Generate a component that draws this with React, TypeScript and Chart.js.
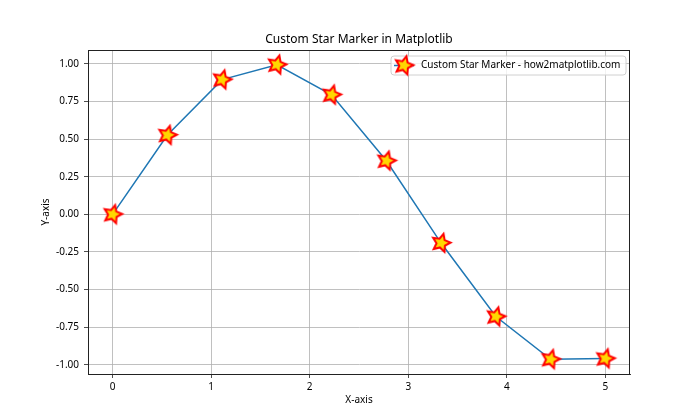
import React, { useEffect, useRef } from "react";
import { Chart, registerables } from "chart.js";

Chart.register(...registerables);

const xValues = [0, 0.556, 1.111, 1.667, 2.222, 2.778, 3.333, 3.889, 4.444, 5];
const yValues = [0, 0.527, 0.896, 0.995, 0.795, 0.356, -0.191, -0.68, -0.964, -0.959];
const xTicks = [0, 1, 2, 3, 4, 5];
const yTicks = [-1, -0.75, -0.5, -0.25, 0, 0.25, 0.5, 0.75, 1];

const TITLE = "Custom Star Marker in Matplotlib";
const X_LABEL = "X-axis";
const Y_LABEL = "Y-axis";
const LEGEND_LABEL = "Custom Star Marker - how2matplotlib.com";

const FONT = "'Noto Sans', 'DejaVu Sans', sans-serif";
const LINE_COLOR = "#1f77b4";

function makeStar(): HTMLCanvasElement {
  const c = document.createElement("canvas");
  const s = 26;
  c.width = s;
  c.height = s;
  const ctx = c.getContext("2d")!;
  const cx = s / 2;
  const cy = s / 2;
  const outer = 9.5;
  const inner = 4.6;
  const rot = (15 * Math.PI) / 180;
  ctx.beginPath();
  for (let i = 0; i < 10; i++) {
    const r = i % 2 === 0 ? outer : inner;
    const a = -Math.PI / 2 + rot + (i * Math.PI) / 5;
    const px = cx + r * Math.cos(a);
    const py = cy + r * Math.sin(a);
    if (i === 0) ctx.moveTo(px, py);
    else ctx.lineTo(px, py);
  }
  ctx.closePath();
  ctx.fillStyle = "#ffd700";
  ctx.fill();
  ctx.lineWidth = 2;
  ctx.lineJoin = "miter";
  ctx.strokeStyle = "#ff0000";
  ctx.stroke();
  return c;
}

export default function App() {
  const ref = useRef<HTMLCanvasElement>(null);

  useEffect(() => {
    const star = makeStar();

    const decor = {
      id: "decor",
      afterDatasetsDraw(chart: any) {
        const { ctx, chartArea } = chart;
        const { left, right, top, bottom } = chartArea;
        ctx.save();
        // frame
        ctx.strokeStyle = "#222";
        ctx.lineWidth = 1;
        ctx.strokeRect(left + 0.5, top + 0.5, right - left - 1, bottom - top);
        // title
        ctx.fillStyle = "#000";
        ctx.textAlign = "center";
        ctx.textBaseline = "middle";
        ctx.font = `12px ${FONT}`;
        ctx.fillText(TITLE, (left + right) / 2, 40);
        // x label
        ctx.font = `10px ${FONT}`;
        ctx.fillText(X_LABEL, (left + right) / 2, 400);
        // y label
        ctx.save();
        ctx.translate(46, (top + bottom) / 2);
        ctx.rotate(-Math.PI / 2);
        ctx.fillText(Y_LABEL, 0, 0);
        ctx.restore();
        // legend
        const lx = 391;
        const ly = 56;
        const lw = 235;
        const lh = 19;
        const r = 3;
        ctx.beginPath();
        ctx.moveTo(lx + r, ly);
        ctx.lineTo(lx + lw - r, ly);
        ctx.quadraticCurveTo(lx + lw, ly, lx + lw, ly + r);
        ctx.lineTo(lx + lw, ly + lh - r);
        ctx.quadraticCurveTo(lx + lw, ly + lh, lx + lw - r, ly + lh);
        ctx.lineTo(lx + r, ly + lh);
        ctx.quadraticCurveTo(lx, ly + lh, lx, ly + lh - r);
        ctx.lineTo(lx, ly + r);
        ctx.quadraticCurveTo(lx, ly, lx + r, ly);
        ctx.closePath();
        ctx.fillStyle = "rgba(255,255,255,0.8)";
        ctx.fill();
        ctx.strokeStyle = "#d0d0d0";
        ctx.lineWidth = 1;
        ctx.stroke();
        ctx.beginPath();
        ctx.moveTo(394, ly + lh / 2);
        ctx.lineTo(414, ly + lh / 2);
        ctx.strokeStyle = LINE_COLOR;
        ctx.lineWidth = 1.5;
        ctx.stroke();
        ctx.drawImage(star, 404 - star.width / 2, ly + lh / 2 - star.height / 2);
        ctx.fillStyle = "#000";
        ctx.textAlign = "left";
        ctx.font = `10px ${FONT}`;
        ctx.fillText(LEGEND_LABEL, 421, ly + lh / 2);
        ctx.restore();
      },
    };

    const chart = new Chart(ref.current!, {
      type: "line",
      data: {
        datasets: [
          {
            label: LEGEND_LABEL,
            data: xValues.map((x, i) => ({ x, y: yValues[i] })),
            borderColor: LINE_COLOR,
            borderWidth: 1.5,
            pointStyle: star as any,
            pointRadius: 10,
            pointHoverRadius: 10,
            tension: 0,
            clip: false as any,
          },
        ],
      },
      options: {
        responsive: false,
        animation: false,
        events: [],
        layout: { padding: { top: 50, right: 70, left: 0, bottom: 0 } },
        plugins: {
          legend: { display: false },
          title: { display: false },
          tooltip: { enabled: false },
        },
        scales: {
          x: {
            type: "linear",
            min: -0.25,
            max: 5.25,
            afterBuildTicks: (s: any) => {
              s.ticks = xTicks.map((v) => ({ value: v }));
            },
            afterFit: (s: any) => {
              s.height = 46;
            },
            grid: { color: "#b0b0b0", lineWidth: 0.8, tickColor: "#222", tickLength: 4 },
            border: { color: "#222", width: 1 },
            ticks: {
              padding: 3,
              color: "#000",
              font: { family: FONT, size: 10 },
              callback: (v: any) => String(v),
            },
          },
          y: {
            type: "linear",
            min: -1.062,
            max: 1.093,
            afterBuildTicks: (s: any) => {
              s.ticks = yTicks.map((v) => ({ value: v }));
            },
            afterFit: (s: any) => {
              s.width = 88;
            },
            grid: { color: "#b0b0b0", lineWidth: 0.8, tickColor: "#222", tickLength: 4 },
            border: { color: "#222", width: 1 },
            ticks: {
              padding: 5,
              color: "#000",
              font: { family: FONT, size: 10 },
              callback: (v: any) => Number(v).toFixed(2),
            },
          },
        },
      },
      plugins: [decor],
    });
    return () => chart.destroy();
  }, []);

  return (
    <div style={{ position: "fixed", left: 0, top: 0, width: 700, height: 420, background: "#fff" }}>
      <canvas ref={ref} width={700} height={420} style={{ width: 700, height: 420 }} />
    </div>
  );
}
